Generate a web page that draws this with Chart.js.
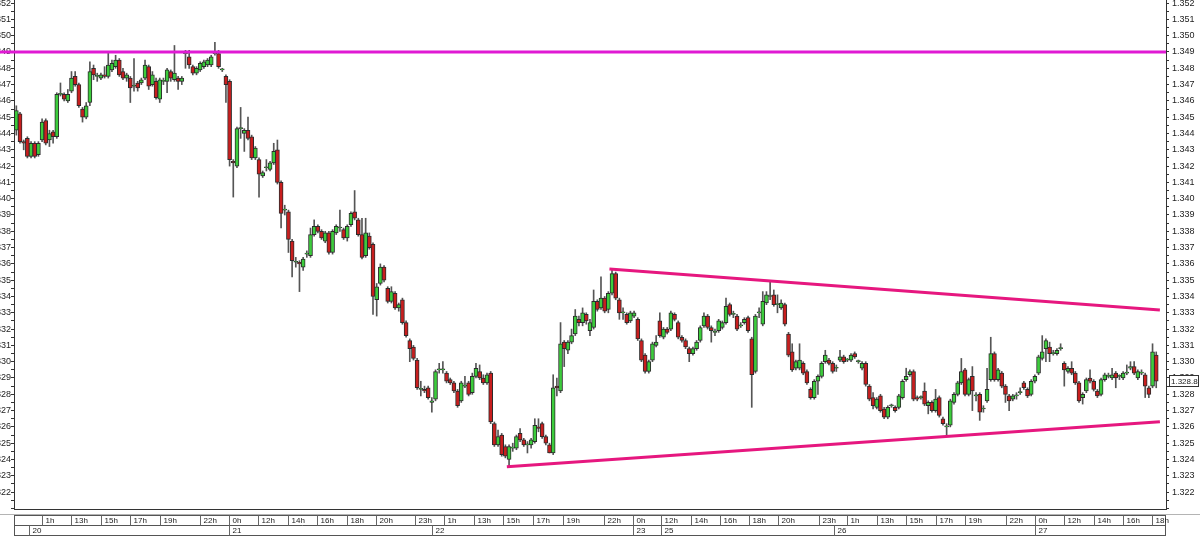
<!DOCTYPE html>
<html>
<head>
<meta charset="utf-8">
<script src="https://cdn.jsdelivr.net/npm/chart.js@4.4.1/dist/chart.umd.min.js"></script>
<style>
  html, body { margin: 0; padding: 0; background: #fff; }
  #wrap { position: relative; width: 1200px; height: 536px; }
</style>
</head>
<body>
<div id="wrap"><canvas id="c" width="1200" height="536"></canvas></div>
<script>
// 15-minute candles (index = candle number)
const opens = [
  1.3442,1.3452,1.3435,1.3437,1.3426,1.3434,1.3427,1.3436,1.3448,1.3436,
  1.3441,1.3438,1.3464,1.3464,1.3460,1.3466,1.3475,1.3470,1.3455,1.3450,
  1.3459,1.3480,1.3475,1.3474,1.3476,1.3475,1.3479,1.3481,1.3485,1.3478,
  1.3474,1.3474,1.3469,1.3471,1.3471,1.3474,1.3481,1.3470,1.3472,1.3461,
  1.3472,1.3472,1.3478,1.3473,1.3474,1.3472,1.3489,1.3487,1.3481,1.3477,
  1.3479,1.3481,1.3482,1.3482,1.3489,1.3489,1.3479,1.3475,1.3472,1.3423,
  1.3420,1.3443,1.3440,1.3442,1.3438,1.3425,1.3424,1.3414,1.3419,1.3418,
  1.3422,1.3430,1.3410,1.3393,1.3392,1.3374,1.3361,1.3361,1.3358,1.3366,
  1.3365,1.3378,1.3383,1.3380,1.3374,1.3379,1.3367,1.3379,1.3382,1.3381,
  1.3376,1.3384,1.3392,1.3387,1.3378,1.3365,1.3377,1.3372,1.3338,1.3348,
  1.3358,1.3345,1.3337,1.3342,1.3333,1.3338,1.3324,1.3313,1.3309,1.3301,
  1.3283,1.3283,1.3284,1.3275,1.3277,1.3295,1.3295,1.3293,1.3289,1.3287,
  1.3282,1.3276,1.3285,1.3287,1.3281,1.3291,1.3294,1.3290,1.3287,1.3293,
  1.3262,1.3249,1.3255,1.3248,1.3240,1.3247,1.3247,1.3256,1.3252,1.3249,
  1.3249,1.3251,1.3260,1.3262,1.3254,1.3249,1.3244,1.3285,1.3282,1.3312,
  1.3307,1.3312,1.3317,1.3326,1.3324,1.3329,1.3319,1.3321,1.3337,1.3333,
  1.3339,1.3332,1.3342,1.3354,1.3338,1.3330,1.3329,1.3325,1.3328,1.3326,
  1.3313,1.3304,1.3294,1.3301,1.3310,1.3325,1.3315,1.3320,1.3320,1.3329,
  1.3324,1.3315,1.3313,1.3308,1.3305,1.3308,1.3313,1.3322,1.3328,1.3321,
  1.3318,1.3319,1.3321,1.3324,1.3335,1.3329,1.3328,1.3322,1.3324,1.3327,
  1.3314,1.3294,1.3330,1.3323,1.3336,1.3340,1.3341,1.3335,1.3333,1.3335,
  1.3317,1.3306,1.3296,1.3296,1.3299,1.3294,1.3283,1.3278,1.3288,1.3291,
  1.3300,1.3301,1.3299,1.3296,1.3301,1.3303,1.3301,1.3301,1.3305,1.3300,
  1.3296,1.3299,1.3285,1.3278,1.3272,1.3279,1.3271,1.3266,1.3273,1.3272,
  1.3272,1.3278,1.3289,1.3292,1.3294,1.3278,1.3278,1.3282,1.3273,1.3275,
  1.3270,1.3278,1.3265,1.3260,1.3261,1.3275,1.3280,1.3287,1.3295,1.3280,
  1.3291,1.3279,1.3280,1.3271,1.3276,1.3289,1.3305,1.3289,1.3293,1.3285,
  1.3279,1.3277,1.3279,1.3281,1.3287,1.3283,1.3280,1.3288,1.3293,1.3302,
  1.3308,1.3309,1.3305,1.3305,1.3308,1.3299,1.3294,1.3296,1.3293,1.3287,
  1.3278,1.3282,1.3290,1.3288,1.3282,1.3280,1.3289,1.3291,1.3290,1.3293,
  1.3291,1.3290,1.3293,1.3296,1.3297,1.3290,1.3293,1.3292,1.3284,1.3285,
  1.3304
];
const highs = [
  1.3457,1.3453,1.3436,1.3438,1.3435,1.3435,1.3435,1.3449,1.3449,1.3442,
  1.3442,1.3465,1.3471,1.3465,1.3467,1.3478,1.3478,1.3471,1.3456,1.3459,
  1.3484,1.3482,1.3477,1.3477,1.3481,1.3490,1.3485,1.3488,1.3486,1.3480,
  1.3477,1.3475,1.3486,1.3472,1.3474,1.3485,1.3482,1.3478,1.3474,1.3474,
  1.3474,1.3480,1.3479,1.3494,1.3475,1.3475,1.3491,1.3491,1.3482,1.3481,
  1.3484,1.3485,1.3486,1.3488,1.3496,1.3491,1.3480,1.3476,1.3473,1.3424,
  1.3444,1.3456,1.3443,1.3450,1.3439,1.3432,1.3425,1.3417,1.3424,1.3423,
  1.3434,1.3436,1.3411,1.3396,1.3393,1.3375,1.3364,1.3362,1.3364,1.3368,
  1.3382,1.3387,1.3384,1.3381,1.3380,1.3380,1.3381,1.3384,1.3393,1.3382,
  1.3384,1.3392,1.3405,1.3388,1.3388,1.3388,1.3379,1.3373,1.3348,1.3360,
  1.3359,1.3346,1.3346,1.3343,1.3336,1.3339,1.3325,1.3314,1.3310,1.3302,
  1.3288,1.3285,1.3285,1.3278,1.3295,1.3299,1.3300,1.3294,1.3290,1.3288,
  1.3283,1.3288,1.3291,1.3288,1.3293,1.3299,1.3298,1.3292,1.3293,1.3294,
  1.3263,1.3258,1.3256,1.3249,1.3249,1.3250,1.3255,1.3259,1.3253,1.3251,
  1.3253,1.3265,1.3265,1.3263,1.3255,1.3250,1.3292,1.3290,1.3324,1.3313,
  1.3313,1.3320,1.3332,1.3328,1.3333,1.3330,1.3326,1.3344,1.3338,1.3352,
  1.3340,1.3343,1.3357,1.3355,1.3339,1.3333,1.3330,1.3331,1.3331,1.3327,
  1.3314,1.3305,1.3301,1.3312,1.3316,1.3330,1.3321,1.3321,1.3331,1.3330,
  1.3325,1.3316,1.3314,1.3309,1.3309,1.3313,1.3322,1.3330,1.3329,1.3322,
  1.3320,1.3326,1.3325,1.3339,1.3336,1.3331,1.3329,1.3324,1.3327,1.3328,
  1.3315,1.3329,1.3333,1.3343,1.3343,1.3349,1.3344,1.3341,1.3338,1.3336,
  1.3318,1.3311,1.3301,1.3311,1.3300,1.3295,1.3284,1.3289,1.3292,1.3300,
  1.3307,1.3302,1.3300,1.3298,1.3307,1.3304,1.3302,1.3305,1.3306,1.3301,
  1.3300,1.3300,1.3286,1.3281,1.3278,1.3280,1.3272,1.3273,1.3274,1.3273,
  1.3280,1.3289,1.3296,1.3295,1.3295,1.3279,1.3279,1.3287,1.3276,1.3276,
  1.3283,1.3279,1.3266,1.3262,1.3277,1.3281,1.3288,1.3302,1.3296,1.3290,
  1.3297,1.3281,1.3281,1.3273,1.3296,1.3315,1.3306,1.3296,1.3294,1.3286,
  1.3280,1.3280,1.3281,1.3284,1.3288,1.3284,1.3289,1.3292,1.3304,1.3316,
  1.3314,1.3312,1.3307,1.3308,1.3311,1.3300,1.3297,1.3300,1.3294,1.3288,
  1.3281,1.3290,1.3295,1.3289,1.3283,1.3290,1.3293,1.3293,1.3296,1.3294,
  1.3292,1.3294,1.3298,1.3300,1.3300,1.3295,1.3295,1.3293,1.3285,1.3311,
  1.3306
];
const lows = [
  1.3439,1.3434,1.3430,1.3425,1.3425,1.3425,1.3426,1.3435,1.3433,1.3432,
  1.3434,1.3437,1.3463,1.3460,1.3459,1.3465,1.3469,1.3456,1.3447,1.3449,
  1.3457,1.3473,1.3472,1.3473,1.3474,1.3474,1.3478,1.3480,1.3475,1.3473,
  1.3472,1.3459,1.3466,1.3466,1.3470,1.3473,1.3467,1.3469,1.3461,1.3459,
  1.3470,1.3465,1.3472,1.3472,1.3467,1.3470,1.3480,1.3480,1.3476,1.3476,
  1.3478,1.3480,1.3481,1.3481,1.3488,1.3480,1.3478,1.3459,1.3420,1.3401,
  1.3419,1.3437,1.3429,1.3436,1.3424,1.3424,1.3401,1.3413,1.3417,1.3417,
  1.3421,1.3409,1.3382,1.3390,1.3367,1.3352,1.3358,1.3343,1.3356,1.3364,
  1.3364,1.3377,1.3379,1.3375,1.3373,1.3366,1.3366,1.3378,1.3380,1.3375,
  1.3374,1.3383,1.3387,1.3377,1.3363,1.3364,1.3369,1.3329,1.3328,1.3347,
  1.3349,1.3336,1.3336,1.3332,1.3331,1.3323,1.3315,1.3300,1.3301,1.3283,
  1.3279,1.3281,1.3277,1.3269,1.3276,1.3293,1.3293,1.3287,1.3286,1.3281,
  1.3272,1.3275,1.3284,1.3279,1.3280,1.3290,1.3289,1.3286,1.3286,1.3262,
  1.3248,1.3248,1.3242,1.3241,1.3236,1.3245,1.3246,1.3251,1.3248,1.3244,
  1.3247,1.3250,1.3257,1.3253,1.3249,1.3244,1.3243,1.3279,1.3281,1.3297,
  1.3305,1.3311,1.3316,1.3322,1.3322,1.3323,1.3316,1.3320,1.3331,1.3332,
  1.3330,1.3330,1.3341,1.3338,1.3326,1.3326,1.3323,1.3324,1.3327,1.3313,
  1.3300,1.3293,1.3293,1.3300,1.3309,1.3315,1.3314,1.3317,1.3319,1.3325,
  1.3314,1.3312,1.3308,1.3300,1.3304,1.3307,1.3312,1.3321,1.3320,1.3312,
  1.3316,1.3318,1.3320,1.3323,1.3328,1.3327,1.3319,1.3321,1.3323,1.3318,
  1.3272,1.3293,1.3327,1.3322,1.3335,1.3338,1.3334,1.3330,1.3332,1.3322,
  1.3303,1.3294,1.3295,1.3295,1.3292,1.3286,1.3277,1.3277,1.3280,1.3290,
  1.3299,1.3298,1.3293,1.3294,1.3300,1.3299,1.3300,1.3300,1.3302,1.3299,
  1.3295,1.3285,1.3276,1.3271,1.3271,1.3269,1.3265,1.3265,1.3272,1.3269,
  1.3271,1.3277,1.3288,1.3291,1.3276,1.3276,1.3277,1.3273,1.3268,1.3269,
  1.3269,1.3266,1.3261,1.3255,1.3260,1.3274,1.3279,1.3286,1.3279,1.3279,
  1.3270,1.3276,1.3264,1.3269,1.3275,1.3288,1.3288,1.3288,1.3284,1.3275,
  1.3270,1.3276,1.3277,1.3280,1.3283,1.3278,1.3279,1.3287,1.3292,1.3301,
  1.3300,1.3300,1.3304,1.3304,1.3307,1.3285,1.3293,1.3292,1.3286,1.3275,
  1.3274,1.3281,1.3287,1.3282,1.3278,1.3279,1.3288,1.3290,1.3289,1.3284,
  1.3289,1.3289,1.3292,1.3295,1.3292,1.3289,1.3292,1.3278,1.3278,1.3284,
  1.3284
];
const closes = [
  1.3454,1.3435,1.3434,1.3426,1.3434,1.3426,1.3434,1.3447,1.3434,1.3440,
  1.3438,1.3464,1.3464,1.3461,1.3464,1.3474,1.3470,1.3457,1.3450,1.3457,
  1.3478,1.3476,1.3475,1.3476,1.3475,1.3482,1.3483,1.3485,1.3476,1.3474,
  1.3476,1.3468,1.3469,1.3468,1.3473,1.3482,1.3469,1.3476,1.3462,1.3473,
  1.3472,1.3479,1.3474,1.3477,1.3472,1.3474,1.3489,1.3482,1.3477,1.3480,
  1.3483,1.3484,1.3485,1.3487,1.3489,1.3481,1.3479,1.3470,1.3424,1.3422,
  1.3443,1.3443,1.3442,1.3437,1.3425,1.3431,1.3415,1.3416,1.3419,1.3422,
  1.3429,1.3410,1.3391,1.3393,1.3375,1.3362,1.3361,1.3360,1.3363,1.3366,
  1.3378,1.3383,1.3380,1.3376,1.3379,1.3367,1.3380,1.3383,1.3382,1.3376,
  1.3383,1.3391,1.3388,1.3378,1.3364,1.3379,1.3370,1.3340,1.3346,1.3358,
  1.3350,1.3337,1.3343,1.3333,1.3335,1.3324,1.3316,1.3308,1.3302,1.3284,
  1.3283,1.3282,1.3278,1.3276,1.3294,1.3295,1.3295,1.3288,1.3287,1.3282,
  1.3273,1.3287,1.3285,1.3280,1.3291,1.3296,1.3290,1.3287,1.3292,1.3263,
  1.3249,1.3254,1.3243,1.3242,1.3248,1.3247,1.3254,1.3252,1.3249,1.3249,
  1.3252,1.3261,1.3259,1.3254,1.3250,1.3244,1.3284,1.3284,1.3311,1.3308,
  1.3312,1.3316,1.3328,1.3324,1.3330,1.3325,1.3324,1.3337,1.3332,1.3339,
  1.3331,1.3342,1.3354,1.3339,1.3330,1.3330,1.3324,1.3330,1.3330,1.3314,
  1.3301,1.3294,1.3300,1.3311,1.3312,1.3316,1.3320,1.3318,1.3330,1.3326,
  1.3315,1.3313,1.3309,1.3305,1.3308,1.3312,1.3321,1.3328,1.3321,1.3319,
  1.3318,1.3325,1.3324,1.3334,1.3329,1.3329,1.3320,1.3322,1.3326,1.3319,
  1.3292,1.3328,1.3330,1.3337,1.3341,1.3340,1.3335,1.3335,1.3336,1.3323,
  1.3304,1.3295,1.3300,1.3301,1.3293,1.3287,1.3278,1.3288,1.3291,1.3299,
  1.3304,1.3299,1.3294,1.3296,1.3303,1.3300,1.3301,1.3304,1.3303,1.3300,
  1.3299,1.3286,1.3277,1.3273,1.3277,1.3270,1.3266,1.3272,1.3273,1.3270,
  1.3279,1.3288,1.3291,1.3294,1.3277,1.3277,1.3278,1.3274,1.3275,1.3270,
  1.3277,1.3267,1.3262,1.3260,1.3276,1.3280,1.3287,1.3294,1.3280,1.3289,
  1.3282,1.3279,1.3269,1.3271,1.3283,1.3305,1.3289,1.3295,1.3285,1.3280,
  1.3276,1.3279,1.3279,1.3281,1.3284,1.3279,1.3288,1.3291,1.3303,1.3306,
  1.3313,1.3305,1.3305,1.3307,1.3308,1.3295,1.3296,1.3293,1.3287,1.3276,
  1.3280,1.3289,1.3288,1.3283,1.3279,1.3289,1.3292,1.3291,1.3292,1.3290,
  1.3291,1.3293,1.3293,1.3297,1.3293,1.3294,1.3293,1.3285,1.3280,1.3306,
  1.3288
];

// drawn lines: horizontal resistance and the two trend lines (candle index, price)
const resistance = [{ x: -4.45, y: 1.349 }, { x: 312.66, y: 1.349 }];
const upperTrend = [{ x: 161.3, y: 1.33569 }, { x: 311.0, y: 1.33317 }];
const lowerTrend = [{ x: 133.4, y: 1.32356 }, { x: 311.0, y: 1.32632 }];

// time axis labels, placed at candle indices
const hourLabels = ['1h','13h','15h','17h','19h','22h','0h','12h','14h','16h','18h','20h','23h',
  '1h','13h','15h','17h','19h','22h','0h','12h','14h','16h','18h','20h','23h',
  '1h','13h','15h','17h','19h','22h','0h','12h','14h','16h','18h'];
const hourTicks = [7, 14.8, 22.9, 30.9, 39.1, 50, 57.7, 65.8, 73.9, 81.7, 89.8, 97.9, 108.5,
  116.3, 124.4, 132.4, 140.5, 148.6, 159.8, 167.6, 175.4, 183.5, 191.3, 199.3, 207.1, 218.3,
  226, 234.2, 242, 250.1, 258.1, 269.1, 277.1, 285, 293, 301, 308.9];
const dayLabels = ['20', '21', '22', '23', '25', '26', '27'];
const dayTicks = [3.4, 57.7, 113, 167.6, 175.4, 222.4, 277.1];
const lowestLabel = 1.322;
const lastPriceLabel = '1.328.8';

const FONT = '"Liberation Sans", Arial, sans-serif';
const GREEN = '#3ccc3c';
const RED = '#c81e1e';
Chart.defaults.font.family = FONT;
Chart.defaults.font.size = 9;
Chart.defaults.color = '#222';

const idx = closes.map((_, i) => i);
const bodies = idx.map(i => ({ x: i, y: [opens[i], closes[i]] }));
const wicks = idx.map(i => ({ x: i, y: [lows[i], highs[i]] }));
const bodyColors = idx.map(i => closes[i] >= opens[i] ? GREEN : RED);

const Y_MIN = 1.320963, Y_MAX = 1.35219;

function yAxis(position, width, pad) {
  return {
    position,
    min: Y_MIN,
    max: Y_MAX,
    afterFit(s) { s.width = width; s.paddingTop = 0; s.paddingBottom = 0; },
    grid: { drawOnChartArea: false, drawTicks: true, tickLength: 3, tickColor: '#333' },
    border: { display: true, color: '#333', width: 1 },
    ticks: {
      stepSize: 0.0005,
      autoSkip: false,
      includeBounds: false,
      padding: pad,
      color: '#222',
      font: { size: 9 },
      callback(v) {
        const k = v * 1000;
        if (v < lowestLabel - 0.0002) return '';
        return Math.abs(k - Math.round(k)) < 1e-6 ? v.toFixed(3) : '';
      }
    }
  };
}

const timeAxis = {
  id: 'timeAxis',
  afterDraw(chart) {
    const { ctx, chartArea: a, scales: { x } } = chart;
    ctx.save();
    ctx.lineWidth = 1;
    // plot bottom border
    ctx.strokeStyle = '#333';
    ctx.beginPath();
    ctx.moveTo(a.left, Math.round(a.bottom) + 0.5);
    ctx.lineTo(a.right, Math.round(a.bottom) + 0.5);
    ctx.stroke();
    // panel separator
    ctx.strokeStyle = '#b4b4b4';
    ctx.beginPath();
    ctx.moveTo(0, a.bottom + 5.5);
    ctx.lineTo(chart.width, a.bottom + 5.5);
    ctx.stroke();

    const top = Math.round(a.bottom) + 6.5, mid = top + 10, bot = top + 20;
    const L = Math.round(a.left) + 0.5, R = Math.round(a.right) - 0.5;
    ctx.strokeStyle = '#555';
    ctx.strokeRect(L, top, R - L, bot - top);
    ctx.beginPath();
    ctx.moveTo(L, mid); ctx.lineTo(R, mid);
    ctx.stroke();

    ctx.font = '8px ' + FONT;
    ctx.fillStyle = '#222';
    ctx.textBaseline = 'middle';
    ctx.textAlign = 'left';
    ctx.strokeStyle = '#666';
    hourTicks.forEach((t, i) => {
      const px = Math.round(x.getPixelForValue(t)) + 0.5;
      ctx.beginPath(); ctx.moveTo(px, top); ctx.lineTo(px, mid); ctx.stroke();
      ctx.fillText(hourLabels[i], px + 3, (top + mid) / 2 + 0.5);
    });
    dayTicks.forEach((t, i) => {
      const px = Math.round(x.getPixelForValue(t)) + 0.5;
      ctx.beginPath(); ctx.moveTo(px, mid); ctx.lineTo(px, bot); ctx.stroke();
      ctx.fillText(dayLabels[i], px + 3, (mid + bot) / 2 + 0.5);
    });
    ctx.restore();
  }
};

const lastTag = {
  id: 'lastTag',
  afterDraw(chart) {
    const { ctx, chartArea: a, scales: { y } } = chart;
    const py = Math.round(y.getPixelForValue(closes[closes.length - 1]));
    const bx = Math.round(a.right) + 3;
    ctx.save();
    ctx.fillStyle = '#fff';
    ctx.fillRect(bx, py - 6, 30, 12);
    ctx.strokeStyle = '#333';
    ctx.lineWidth = 1;
    ctx.strokeRect(bx + 0.5, py - 5.5, 29, 11);
    ctx.fillStyle = '#222';
    ctx.font = '8px ' + FONT;
    ctx.textBaseline = 'middle';
    ctx.fillText(lastPriceLabel, bx + 2, py + 0.5);
    ctx.restore();
  }
};

new Chart(document.getElementById('c'), {
  type: 'bar',
  data: {
    datasets: [
      { type: 'line', data: resistance, borderColor: '#e01ad4', borderWidth: 3,
        pointRadius: 0, clip: false, order: -2, yAxisID: 'y' },
      { type: 'line', data: upperTrend, borderColor: '#e6177f', borderWidth: 3,
        pointRadius: 0, order: -1, yAxisID: 'y' },
      { type: 'line', data: lowerTrend, borderColor: '#e6177f', borderWidth: 3,
        pointRadius: 0, order: -1, yAxisID: 'y' },
      { data: bodies, backgroundColor: bodyColors, borderColor: '#2c2c2c', borderWidth: 1,
        borderSkipped: false, barThickness: 4, minBarLength: 1, grouped: false, order: 1, yAxisID: 'y' },
      { data: wicks, backgroundColor: '#555', barThickness: 1, grouped: false, order: 2, yAxisID: 'y' }
    ]
  },
  options: {
    responsive: false,
    animation: false,
    devicePixelRatio: 1,
    layout: { padding: { left: 0, right: 0, top: 0, bottom: 27 } },
    plugins: { legend: { display: false }, tooltip: { enabled: false } },
    scales: {
      x: { type: 'linear', display: false, offset: false, min: -0.636, max: 312.66 },
      y: yAxis('left', 14, 0),
      y2: yAxis('right', 34, 3)
    }
  },
  plugins: [timeAxis, lastTag]
});
</script>
</body>
</html>
